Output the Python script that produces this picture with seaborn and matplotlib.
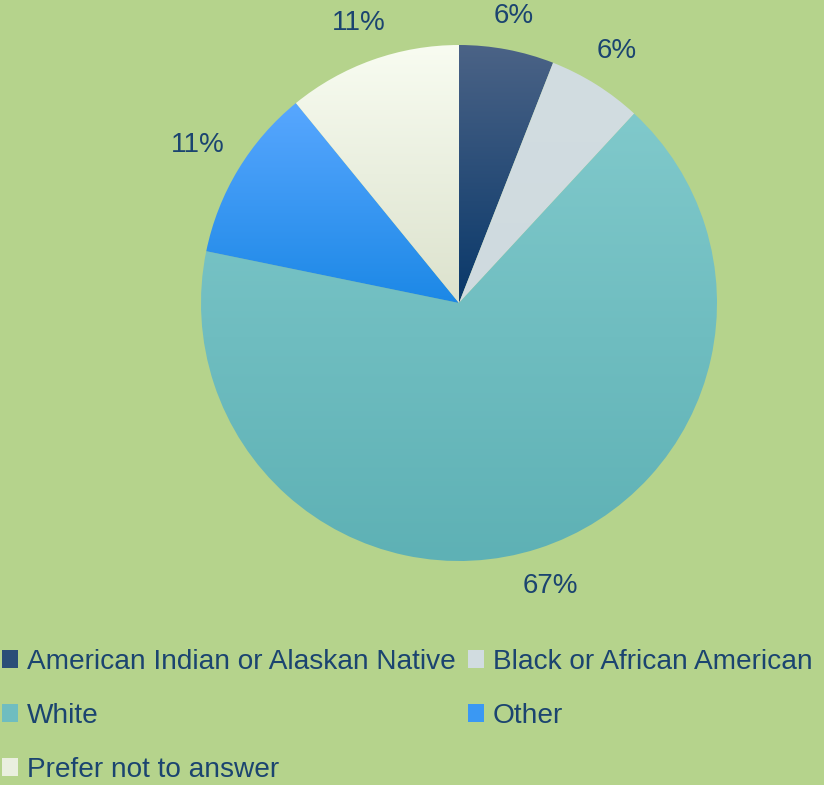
import numpy as np
import matplotlib
matplotlib.use("Agg")
import matplotlib.pyplot as plt
import matplotlib.patches as mpatches
from matplotlib.colors import LinearSegmentedColormap
import seaborn as sns

categories = ["American Indian or Alaskan Native", "Black or African American",
              "White", "Other", "Prefer not to answer"]
percents = [6, 6, 67, 11, 11]

# slice gradients (top colour, bottom colour)
top_colors = ["#4B6386", "#D2DDE1", "#80C9CB", "#58A7FF", "#F8FCF1"]
bottom_colors = ["#09386A", "#CFDADF", "#5EB1B5", "#1C88E6", "#DCE2CD"]

bg = "#B5D38C"
txt = "#1B4470"

sns.set_theme(style="white", rc={"figure.facecolor": bg, "axes.facecolor": bg,
                                 "savefig.facecolor": bg})
plt.rcParams["font.family"] = ["Liberation Sans", "DejaVu Sans"]

fig = plt.figure(figsize=(8.24, 7.85), dpi=100)
ax = fig.add_axes([201 / 824, 224 / 785, 516 / 824, 516 / 785])

mid_colors = [sns.blend_palette([b, t], 3)[1] for b, t in zip(bottom_colors, top_colors)]
total = sum(percents)

wedges, texts, autotexts = ax.pie(
    percents, colors=mid_colors, startangle=90, counterclock=False,
    radius=1, autopct=lambda p: f"{p * total / 100:.0f}%", pctdistance=1.16,
    textprops={"color": txt, "fontsize": 20},
    wedgeprops={"linewidth": 0},
)

# vertical gradient fill inside each slice
for w, t, b in zip(wedges, top_colors, bottom_colors):
    bb = w.get_path().get_extents()
    cmap = LinearSegmentedColormap.from_list("g", [b, t])
    grad = np.linspace(0, 1, 256).reshape(-1, 1)
    im = ax.imshow(grad, cmap=cmap, origin="lower", aspect="auto",
                   extent=[bb.x0, bb.x1, bb.y0, bb.y1], zorder=w.get_zorder())
    im.set_clip_path(w)
    w.set_facecolor("none")

ax.set_xlim(-1, 1)
ax.set_ylim(-1, 1)
ax.set_aspect("equal")
ax.axis("off")

# put labels just outside the rim, like Excel's outside-end labels
fig.canvas.draw()
px_per_unit = ax.transData.transform((1, 0))[0] - ax.transData.transform((0, 0))[0]
gap = 0.07
for w, at in zip(wedges, autotexts):
    th = np.deg2rad((w.theta1 + w.theta2) / 2)
    ext = at.get_window_extent()
    hw = ext.width / 2 / px_per_unit
    hh = ext.height / 2 / px_per_unit
    r = 1 + gap + hw * abs(np.cos(th)) + hh * abs(np.sin(th))
    at.set_position((r * np.cos(th), r * np.sin(th)))

handles = [mpatches.Patch(facecolor=c, edgecolor="none") for c in mid_colors]
order = [0, 2, 4, 1, 3]
leg = fig.legend([handles[i] for i in order], [categories[i] for i in order],
                 ncol=2, loc="upper left", bbox_to_anchor=(2 / 824, 1 - 649 / 785),
                 frameon=False, fontsize=20.2, borderpad=0, borderaxespad=0,
                 handlelength=0.58, handleheight=0.6, handletextpad=0.32,
                 columnspacing=0.42, labelspacing=1.0)
for t in leg.get_texts():
    t.set_color(txt)

fig.savefig("out.png", dpi=100)
